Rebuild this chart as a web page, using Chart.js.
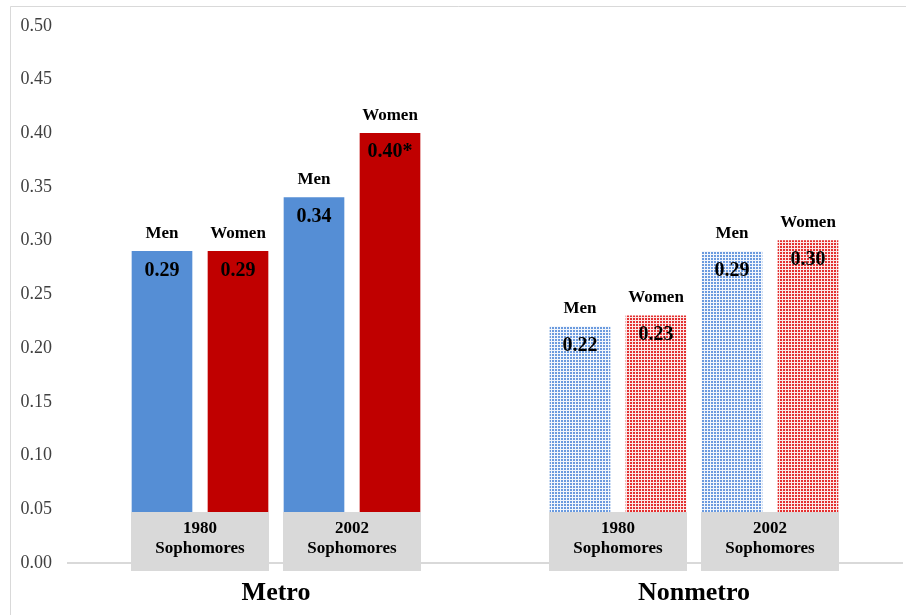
<!DOCTYPE html>
<html>
<head>
<meta charset="utf-8">
<title>Metro and Nonmetro Sophomores</title>
<script src="https://cdn.jsdelivr.net/npm/chart.js@4.4.1/dist/chart.umd.min.js"></script>
<style>
  html, body { margin: 0; padding: 0; background: #ffffff; }
  #wrap { width: 906px; height: 615px; }
</style>
</head>
<body>
<div id="wrap"><canvas id="chart" width="906" height="615"></canvas></div>
<script>
// Areas, cohorts and sexes
const areas = ['Metro', 'Nonmetro'];
const cohortYears = ['1980', '2002'];
const cohortWord = 'Sophomores';
const sexes = ['Men', 'Women'];

// Values per group, ordered Metro 1980, Metro 2002, Nonmetro 1980, Nonmetro 2002
const menValues = [0.29, 0.34, 0.22, 0.29];
const womenValues = [0.29, 0.40, 0.23, 0.30];
// Significance markers appended to value labels
const menMarks = ['', '', '', ''];
const womenMarks = ['', '*', '', ''];

// Y axis tick values
const yTickValues = [0.00, 0.05, 0.10, 0.15, 0.20, 0.25, 0.30, 0.35, 0.40, 0.45, 0.50];

const SERIF = '"Liberation Serif", "Times New Roman", serif';
const BLUE = '#558ed5';
const RED = '#c00000';

// Fine checkered fill used for nonmetro bars
function checkerPattern(ink, paper) {
  const c = document.createElement('canvas');
  c.width = 3; c.height = 3;
  const g = c.getContext('2d');
  g.fillStyle = paper;
  g.fillRect(0, 0, 3, 3);
  g.fillStyle = ink;
  g.fillRect(0, 0, 2, 2);
  return g.createPattern(c, 'repeat');
}
const patterns = [
  checkerPattern('#6a9ade', '#f2f6fc'),
  checkerPattern('#e33030', '#fbe8e8')
];
const solids = [BLUE, RED];

// Horizontal slot for each bar: group i (area*2 + cohort), sex s
function slotFor(i, s) {
  const area = Math.floor(i / 2), cohort = i % 2;
  return 2.5 + area * 11 + cohort * 4 + s * 2;
}

const seriesValues = [menValues, womenValues];
const seriesMarks = [menMarks, womenMarks];

const datasets = sexes.map((sex, s) => ({
  label: sex,
  data: seriesValues[s].map((v, i) => ({ x: slotFor(i, s), y: v })),
  backgroundColor: (ctx) => {
    const area = Math.floor(ctx.dataIndex / 2);
    return area === 0 ? solids[s] : patterns[s];
  },
  borderWidth: 0,
  barThickness: 60,
  grouped: false
}));

const frame = {
  id: 'frame',
  beforeDraw(chart) {
    const ctx = chart.ctx;
    ctx.save();
    ctx.fillStyle = '#ffffff';
    ctx.fillRect(0, 0, chart.width, chart.height);
    ctx.strokeStyle = '#d9d9d9';
    ctx.lineWidth = 1;
    ctx.beginPath();
    ctx.moveTo(10.5, chart.height);
    ctx.lineTo(10.5, 6.5);
    ctx.lineTo(chart.width, 6.5);
    ctx.stroke();
    ctx.restore();
  }
};

const annotations = {
  id: 'annotations',
  afterDatasetsDraw(chart) {
    const ctx = chart.ctx;
    const yScale = chart.scales.y;
    const base = yScale.getPixelForValue(0);
    const men = chart.getDatasetMeta(0).data;
    const women = chart.getDatasetMeta(1).data;
    ctx.save();
    ctx.textAlign = 'center';
    ctx.textBaseline = 'middle';
    ctx.fillStyle = '#000000';

    // Cohort boxes straddling the bar bottoms
    for (let i = 0; i < menValues.length; i++) {
      const left = men[i].x - men[i].width / 2 - 1;
      const right = women[i].x + women[i].width / 2 + 1;
      const top = base - 51, bottom = base + 8;
      ctx.fillStyle = '#d9d9d9';
      ctx.fillRect(left, top, right - left, bottom - top);
      ctx.fillStyle = '#000000';
      ctx.font = 'bold 17px ' + SERIF;
      const cx = (left + right) / 2;
      ctx.fillText(cohortYears[i % 2], cx, top + 17);
      ctx.fillText(cohortWord, cx, top + 37);
    }

    // Sex labels above bars and values inside bar tops
    [men, women].forEach((bars, s) => {
      bars.forEach((bar, i) => {
        ctx.font = 'bold 17px ' + SERIF;
        ctx.fillText(sexes[s], bar.x, bar.y - 18);
        ctx.font = 'bold 20px ' + SERIF;
        const txt = seriesValues[s][i].toFixed(2) + seriesMarks[s][i];
        ctx.fillText(txt, bar.x, bar.y + 19);
      });
    });

    // Area names under each pair of cohorts
    ctx.font = 'bold 26px ' + SERIF;
    areas.forEach((name, a) => {
      const l = men[a * 2].x - men[a * 2].width / 2;
      const r = women[a * 2 + 1].x + women[a * 2 + 1].width / 2;
      ctx.fillText(name, (l + r) / 2, base + 30);
    });
    ctx.restore();
  }
};

new Chart(document.getElementById('chart'), {
  type: 'bar',
  data: { datasets },
  options: {
    responsive: false,
    devicePixelRatio: 1,
    animation: false,
    layout: { padding: { left: 10, right: 3, top: 22, bottom: 52 } },
    plugins: { legend: { display: false }, tooltip: { enabled: false } },
    scales: {
      x: {
        type: 'linear',
        min: 0,
        max: 22,
        offset: false,
        display: false
      },
      y: {
        min: 0,
        max: 0.5,
        afterBuildTicks(scale) {
          scale.ticks = yTickValues.map(v => ({ value: v }));
        },
        afterFit(scale) { scale.width = 57; },
        border: { display: false },
        grid: {
          drawTicks: false,
          lineWidth: 2,
          color: (ctx) => (ctx.tick && ctx.tick.value === 0 ? '#d9d9d9' : 'rgba(0,0,0,0)')
        },
        ticks: {
          padding: 15,
          color: '#404040',
          font: { family: SERIF, size: 18 },
          callback: (v) => Number(v).toFixed(2)
        }
      }
    }
  },
  plugins: [frame, annotations]
});
</script>
</body>
</html>
